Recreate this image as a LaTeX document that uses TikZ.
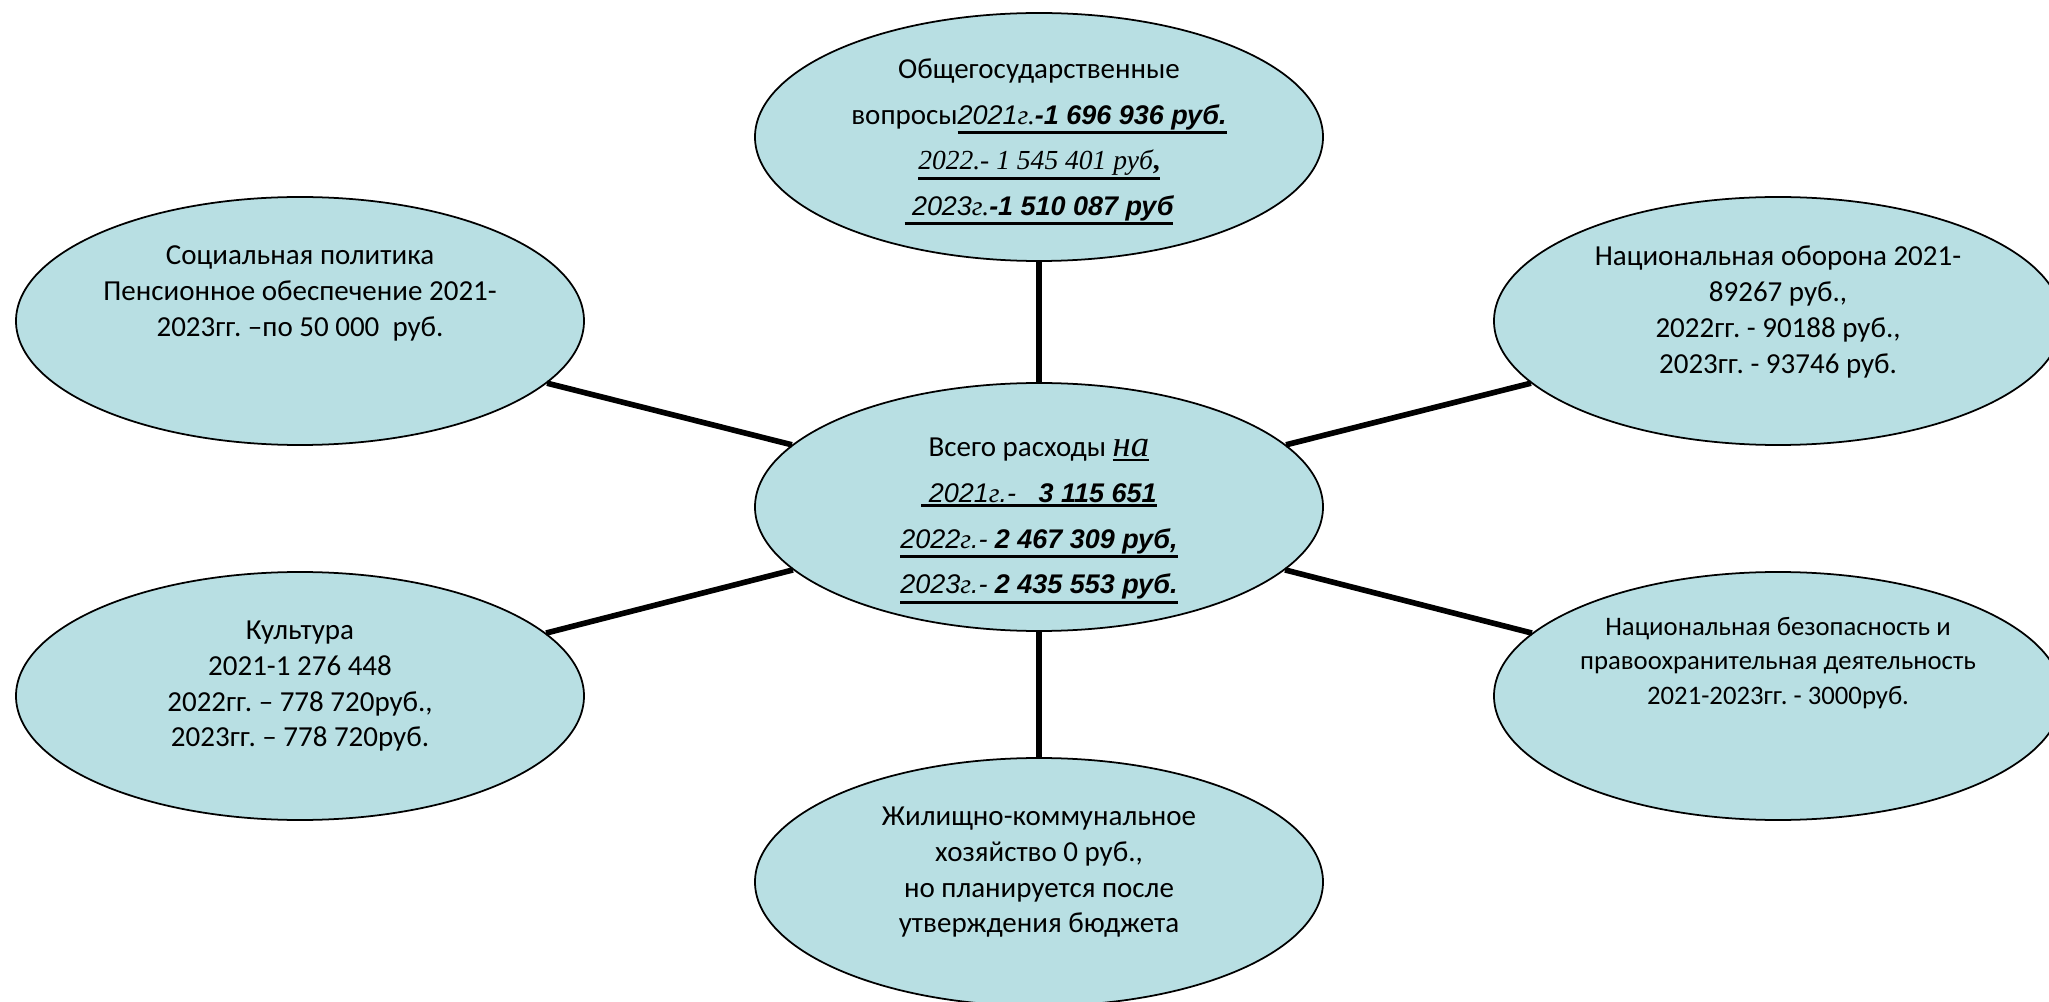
\documentclass[tikz,border=0pt]{standalone}
\usepackage{fontspec}
\setmainfont{Carlito}
\newfontfamily\af[Scale=0.93]{Liberation Sans}
\newfontfamily\tf[Scale=0.95]{Liberation Serif}
\usetikzlibrary{shapes.geometric,positioning}
\definecolor{bubble}{RGB}{184,223,227}
\frenchspacing
\def\ew{5.68cm}
\def\eh{2.48cm}
\def\gap{4.9mm}
\newcommand\ul[1]{\leavevmode\setbox0=\hbox{#1}\rlap{\vrule width\wd0 height\dimexpr-\dp0-0.4pt\relax depth\dimexpr\dp0+1.2pt\relax}\box0}
\tikzset{
  oval/.style={ellipse,draw=black,line width=0.5pt,fill=bubble,minimum width=\ew,minimum height=\eh,inner sep=0pt},
  txt/.style={align=center,inner sep=0pt,font=\fontsize{8.25}{10.2}\selectfont},
  bigtxt/.style={align=center,inner sep=0pt,font=\fontsize{8.25}{13}\selectfont},
  link/.style={line width=1.6pt,black}
}

\begin{document}
\begin{tikzpicture}

\useasboundingbox (0,0) rectangle (20.49,10.01);

\node[oval] (total) at (10.39,4.94) {};
\node[oval] (obshch) at (10.39,8.64) {};
\node[oval] (zhkh) at (10.39,1.19) {};
\node[oval] (social) at (3.00,6.80) {};
\node[oval] (kultura) at (3.00,3.05) {};
\node[oval] (oborona) at (17.78,6.80) {};
\node[oval] (bezop) at (17.78,3.05) {};

\foreach \n in {obshch,zhkh,social,kultura,oborona,bezop}{
    \draw[link] (total) -- (\n);
}

\node[bigtxt] (obshchtxt) at ([yshift=-0.05cm]obshch.center) {Общегосударственные\\
вопросы\ul{{\af\itshape 2021}{\tf\itshape г.}{\af\bfseries\itshape -1 696 936 руб.}}\\
\ul{{\tf\itshape 2022.- 1 545 401 руб}{\tf\bfseries ,}}\\
\ul{{\af\itshape\ 2023}{\tf\itshape г.}{\af\bfseries\itshape -1 510 087 руб}}};

\node[bigtxt] (totaltxt) at ([yshift=-0.14cm]total.center) {Всего расходы \ul{{\tf\itshape\fontsize{11}{13}\selectfont на}}\\
\ul{{\af\itshape\ 2021}{\tf\itshape г}{\af\itshape .-\ \ \ }{\af\bfseries\itshape 3 115 651}}\\
\ul{{\af\itshape 2022}{\tf\itshape г}{\af\itshape .- }{\af\bfseries\itshape 2 467 309 руб,}}\\
\ul{{\af\itshape 2023}{\tf\itshape г}{\af\itshape .- }{\af\bfseries\itshape 2 435 553 руб.}}};

\node[txt, below=\gap of social.north] (socialtxt) {Социальная политика\\Пенсионное обеспечение 2021-\\2023гг. –по 50 000\ \ руб.};
\node[txt, below=\gap of kultura.north] (kulturatxt) {Культура\\2021-1 276 448\\2022гг. – 778 720руб.,\\2023гг. – 778 720руб.};
\node[txt, below=\gap of oborona.north] (oboronatxt) {Национальная оборона 2021-\\89267 руб.,\\2022гг. - 90188 руб.,\\2023гг. - 93746 руб.};
\node[txt, font=\fontsize{7.6}{9.9}\selectfont, below=4.5mm of bezop.north] (bezoptxt) {Национальная безопасность и\\правоохранительная деятельность\\2021-2023гг. - 3000руб.};
\node[txt, below=\gap of zhkh.north] (zhkhtxt) {Жилищно-коммунальное\\хозяйство 0 руб.,\\но планируется после\\утверждения бюджета};

\end{tikzpicture}
\end{document}
